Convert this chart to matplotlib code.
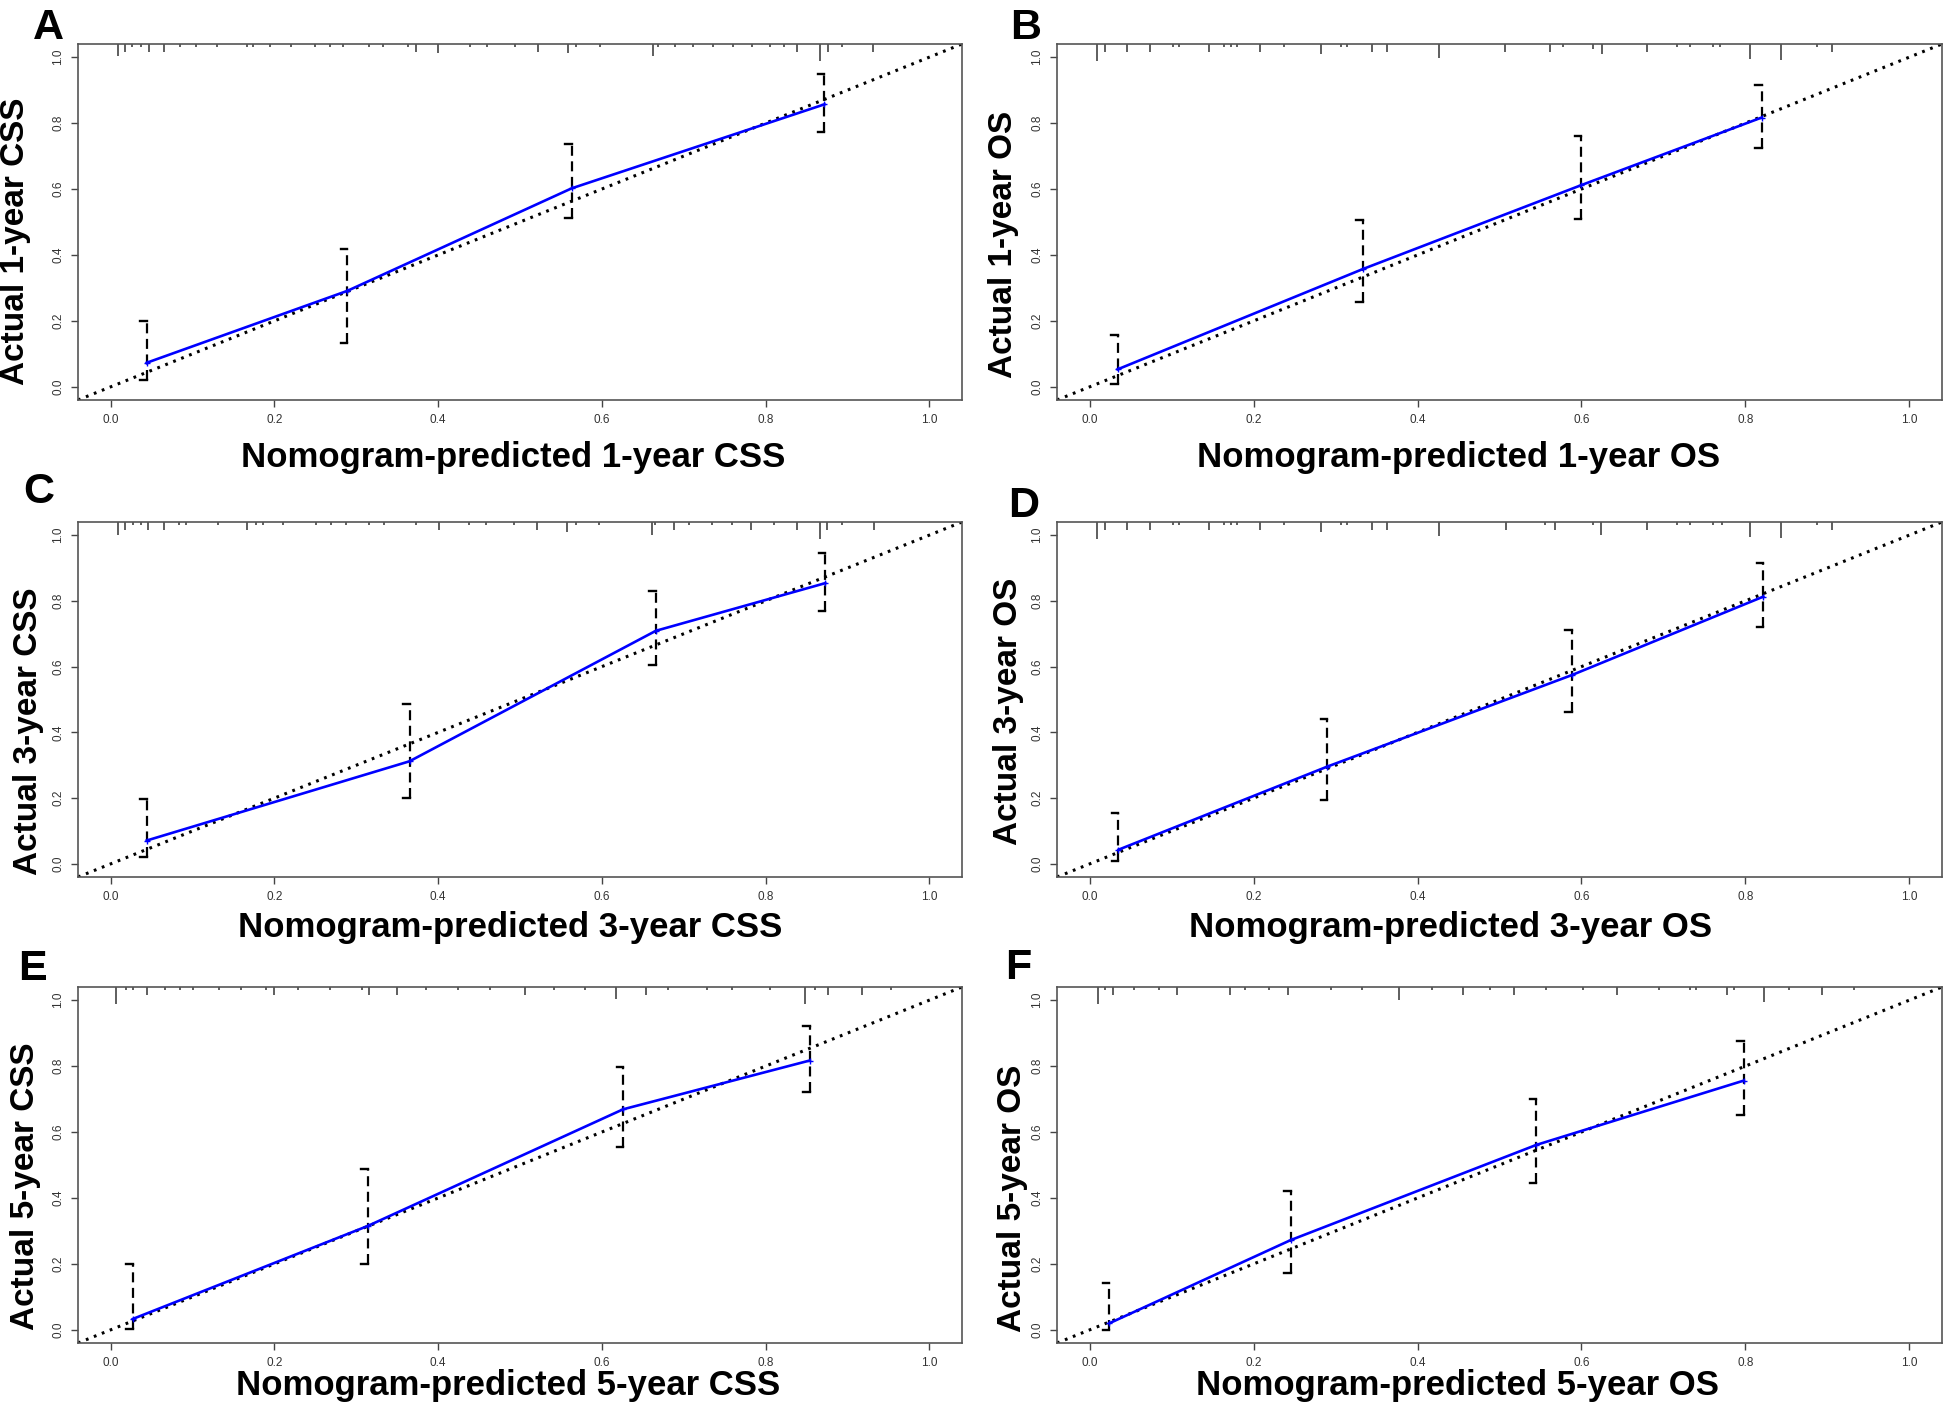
import matplotlib
matplotlib.use("Agg")
import matplotlib.pyplot as plt
import numpy as np

plt.rcParams['font.family'] = ['Liberation Sans', 'DejaVu Sans']

# ---- calibration data (predicted, observed, CI lower, CI upper) ----
a_pred = [0.044, 0.289, 0.563, 0.872]
a_obs = [0.073, 0.291, 0.602, 0.857]
a_lo = [0.022, 0.134, 0.513, 0.773]
a_hi = [0.200, 0.418, 0.738, 0.948]

b_pred = [0.034, 0.333, 0.600, 0.820]
b_obs = [0.053, 0.357, 0.612, 0.817]
b_lo = [0.010, 0.257, 0.508, 0.723]
b_hi = [0.157, 0.507, 0.761, 0.916]

c_pred = [0.044, 0.365, 0.666, 0.873]
c_obs = [0.071, 0.312, 0.709, 0.854]
c_lo = [0.020, 0.201, 0.606, 0.770]
c_hi = [0.198, 0.486, 0.831, 0.947]

d_pred = [0.035, 0.290, 0.588, 0.822]
d_obs = [0.043, 0.296, 0.574, 0.813]
d_lo = [0.010, 0.195, 0.463, 0.722]
d_hi = [0.155, 0.441, 0.712, 0.914]

e_pred = [0.027, 0.314, 0.626, 0.854]
e_obs = [0.033, 0.315, 0.669, 0.817]
e_lo = [0.003, 0.201, 0.556, 0.722]
e_hi = [0.199, 0.487, 0.798, 0.923]

f_pred = [0.024, 0.245, 0.545, 0.798]
f_obs = [0.020, 0.272, 0.561, 0.756]
f_lo = [0.000, 0.172, 0.444, 0.652]
f_hi = [0.142, 0.421, 0.700, 0.875]

# ---- distribution of predictions (rug at the top), relative frequency ----
a_rug = [0.009, 0.018, 0.026, 0.037, 0.047, 0.065, 0.085, 0.104, 0.130, 0.167, 0.174, 0.195, 0.220, 0.250,
         0.268, 0.284, 0.315, 0.333, 0.363, 0.373, 0.400, 0.439, 0.460, 0.494, 0.522, 0.559, 0.569, 0.598,
         0.663, 0.669, 0.689, 0.711, 0.736, 0.760, 0.784, 0.805, 0.823, 0.839, 0.866, 0.876, 0.894, 0.931]
a_rug_f = [0.7, 0.45, 0.2, 0.2, 0.45, 0.45, 0.2, 0.2, 0.2, 0.2, 0.2, 0.2, 0.2, 0.2,
           0.2, 0.2, 0.2, 0.2, 0.2, 0.45, 0.5, 0.2, 0.2, 0.2, 0.45, 0.55, 0.2, 0.2,
           0.7, 0.2, 0.2, 0.2, 0.2, 0.2, 0.2, 0.2, 0.2, 0.45, 1.0, 0.45, 0.2, 0.45]

b_rug = [0.009, 0.018, 0.046, 0.074, 0.101, 0.109, 0.146, 0.164, 0.172, 0.180, 0.208, 0.237, 0.282, 0.306,
         0.314, 0.345, 0.363, 0.426, 0.507, 0.562, 0.578, 0.614, 0.625, 0.680, 0.717, 0.733, 0.761, 0.769,
         0.806, 0.843, 0.887, 0.906]
b_rug_f = [1.0, 0.45, 0.45, 0.45, 0.2, 0.2, 0.45, 0.2, 0.2, 0.2, 0.45, 0.2, 0.6, 0.2,
           0.2, 0.45, 0.45, 0.8, 0.45, 0.45, 0.2, 0.3, 0.6, 0.45, 0.2, 0.2, 0.2, 0.2,
           0.85, 0.95, 0.2, 0.45]

c_rug = [0.009, 0.018, 0.027, 0.037, 0.046, 0.065, 0.084, 0.092, 0.131, 0.167, 0.178, 0.186, 0.210, 0.251,
         0.269, 0.287, 0.316, 0.334, 0.373, 0.401, 0.438, 0.458, 0.493, 0.521, 0.558, 0.568, 0.596, 0.661,
         0.665, 0.688, 0.706, 0.735, 0.759, 0.782, 0.810, 0.838, 0.866, 0.875, 0.894, 0.932]
c_rug_f = [0.75, 0.45, 0.2, 0.2, 0.45, 0.45, 0.2, 0.2, 0.2, 0.45, 0.2, 0.2, 0.2, 0.2,
           0.2, 0.2, 0.2, 0.2, 0.2, 0.45, 0.2, 0.2, 0.2, 0.45, 0.6, 0.2, 0.2, 0.75,
           0.2, 0.45, 0.2, 0.2, 0.2, 0.45, 0.2, 0.45, 1.0, 0.45, 0.2, 0.45]

d_rug = [0.009, 0.018, 0.046, 0.074, 0.101, 0.109, 0.146, 0.164, 0.172, 0.180, 0.208, 0.237, 0.282, 0.306,
         0.314, 0.345, 0.363, 0.426, 0.508, 0.555, 0.568, 0.614, 0.624, 0.680, 0.717, 0.733, 0.761, 0.771,
         0.806, 0.843, 0.888, 0.906]
d_rug_f = [1.0, 0.45, 0.45, 0.45, 0.2, 0.2, 0.45, 0.2, 0.2, 0.2, 0.45, 0.2, 0.6, 0.2,
           0.2, 0.45, 0.45, 0.8, 0.45, 0.2, 0.45, 0.2, 0.75, 0.45, 0.2, 0.2, 0.2, 0.2,
           0.85, 0.95, 0.2, 0.45]

e_rug = [0.007, 0.019, 0.027, 0.044, 0.066, 0.085, 0.101, 0.132, 0.159, 0.190, 0.200, 0.229, 0.268, 0.307,
         0.315, 0.350, 0.385, 0.424, 0.463, 0.506, 0.541, 0.580, 0.617, 0.654, 0.681, 0.728, 0.759, 0.806,
         0.848, 0.860, 0.876, 0.918, 0.953]
e_rug_f = [1.0, 0.2, 0.2, 0.45, 0.2, 0.2, 0.2, 0.2, 0.2, 0.2, 0.45, 0.2, 0.2, 0.2,
           0.45, 0.45, 0.2, 0.2, 0.2, 0.45, 0.2, 0.2, 0.7, 0.45, 0.2, 0.2, 0.2, 0.2,
           1.0, 0.2, 0.45, 0.45, 0.2]

f_rug = [0.010, 0.018, 0.028, 0.054, 0.084, 0.107, 0.171, 0.189, 0.219, 0.242, 0.294, 0.332, 0.377, 0.418,
         0.456, 0.489, 0.518, 0.557, 0.602, 0.643, 0.695, 0.733, 0.740, 0.778, 0.786, 0.823, 0.853, 0.893,
         0.932]
f_rug_f = [1.0, 0.2, 0.45, 0.2, 0.2, 0.45, 0.45, 0.2, 0.2, 0.45, 0.2, 0.2, 0.75, 0.2,
           0.45, 0.2, 0.45, 0.2, 0.2, 0.45, 0.2, 0.2, 0.2, 0.45, 0.2, 0.85, 0.2, 0.45,
           0.2]

x_labels = ['Nomogram-predicted 1-year CSS', 'Nomogram-predicted 1-year OS',
            'Nomogram-predicted 3-year CSS', 'Nomogram-predicted 3-year OS',
            'Nomogram-predicted 5-year CSS', 'Nomogram-predicted 5-year OS']
y_labels = ['Actual 1-year CSS', 'Actual 1-year OS',
            'Actual 3-year CSS', 'Actual 3-year OS',
            'Actual 5-year CSS', 'Actual 5-year OS']
letters = ['A', 'B', 'C', 'D', 'E', 'F']
ticks = [0.0, 0.2, 0.4, 0.6, 0.8, 1.0]
tick_text = ['0.0', '0.2', '0.4', '0.6', '0.8', '1.0']

W, H = 1944, 1413


def fx(px):
    return px / W


def fy(py):
    return 1 - py / H


def draw_panel(ax, pred, obs, lo, hi, rug, rug_f):
    ax.set_xlim(-0.04, 1.04)
    ax.set_ylim(-0.04, 1.04)
    # ideal line
    ax.plot([-0.04, 1.04], [-0.04, 1.04], color='black', lw=2.2, linestyle=(0, (0.9, 1.9)), zorder=2)
    # error bars with caps on the left
    for x, l, h in zip(pred, lo, hi):
        ax.plot([x, x], [l, h], color='black', lw=1.6, linestyle=(0, (4.5, 2.5)), zorder=3)
        ax.plot([x - 0.008, x], [h, h], color='black', lw=1.7, zorder=3)
        ax.plot([x - 0.008, x], [l, l], color='black', lw=1.7, zorder=3)
    ax.plot(pred, obs, color='#0000ff', lw=1.9, marker='+', ms=4, mew=1.0, zorder=4)
    # rug of predictions at the top
    rug_f = np.array(rug_f)
    ax.vlines(rug, 1.04 - rug_f * 0.052, 1.04, color='#333333', lw=1.1, zorder=1)

    ax.set_xticks(ticks)
    ax.set_yticks(ticks)
    ax.set_xticklabels(tick_text)
    ax.set_yticklabels(tick_text, rotation=90, va='center')
    ax.tick_params(axis='both', direction='out', length=5, width=1.0, color='#444444',
                   labelsize=8.5, labelcolor='#333333', pad=5)
    for s in ax.spines.values():
        s.set_color('#555555')
        s.set_linewidth(1.2)


fig = plt.figure(figsize=(19.44, 14.13), dpi=100)

preds = [a_pred, b_pred, c_pred, d_pred, e_pred, f_pred]
obss = [a_obs, b_obs, c_obs, d_obs, e_obs, f_obs]
los = [a_lo, b_lo, c_lo, d_lo, e_lo, f_lo]
his = [a_hi, b_hi, c_hi, d_hi, e_hi, f_hi]
rugs = [a_rug, b_rug, c_rug, d_rug, e_rug, f_rug]
rugs_f = [a_rug_f, b_rug_f, c_rug_f, d_rug_f, e_rug_f, f_rug_f]

# axes boxes in pixels (left, right, top, bottom)
col_px = [(78, 962), (1057, 1942)]
row_px = [(44, 400), (522, 877), (987, 1343)]

# label positions in pixels
xlab_pos = [(513, 457), (1459, 457), (510, 928), (1451, 928), (508, 1385), (1457, 1385)]
ylab_pos = [(16, 241), (1003, 244), (29, 731), (1008, 711), (26, 1186), (1013, 1198)]
letter_pos = [(33, 39), (1010, 39), (23, 503), (1008, 517), (18, 980), (1005, 979)]

for i in range(6):
    r, c = i // 2, i % 2
    l, rr = col_px[c]
    t, b = row_px[r]
    ax = fig.add_axes([fx(l), fy(b), fx(rr - l), (b - t) / H])
    draw_panel(ax, preds[i], obss[i], los[i], his[i], rugs[i], rugs_f[i])
    fig.text(fx(xlab_pos[i][0]), fy(xlab_pos[i][1]), x_labels[i], fontsize=25, fontweight='bold',
             ha='center', va='center')
    fig.text(fx(ylab_pos[i][0]), fy(ylab_pos[i][1]), y_labels[i], fontsize=24, fontweight='bold',
             ha='center', va='center', rotation=90)
    fig.text(fx(letter_pos[i][0]), fy(letter_pos[i][1]), letters[i], fontsize=31, fontweight='bold',
             ha='left', va='baseline')

fig.savefig('out.png', dpi=100)
